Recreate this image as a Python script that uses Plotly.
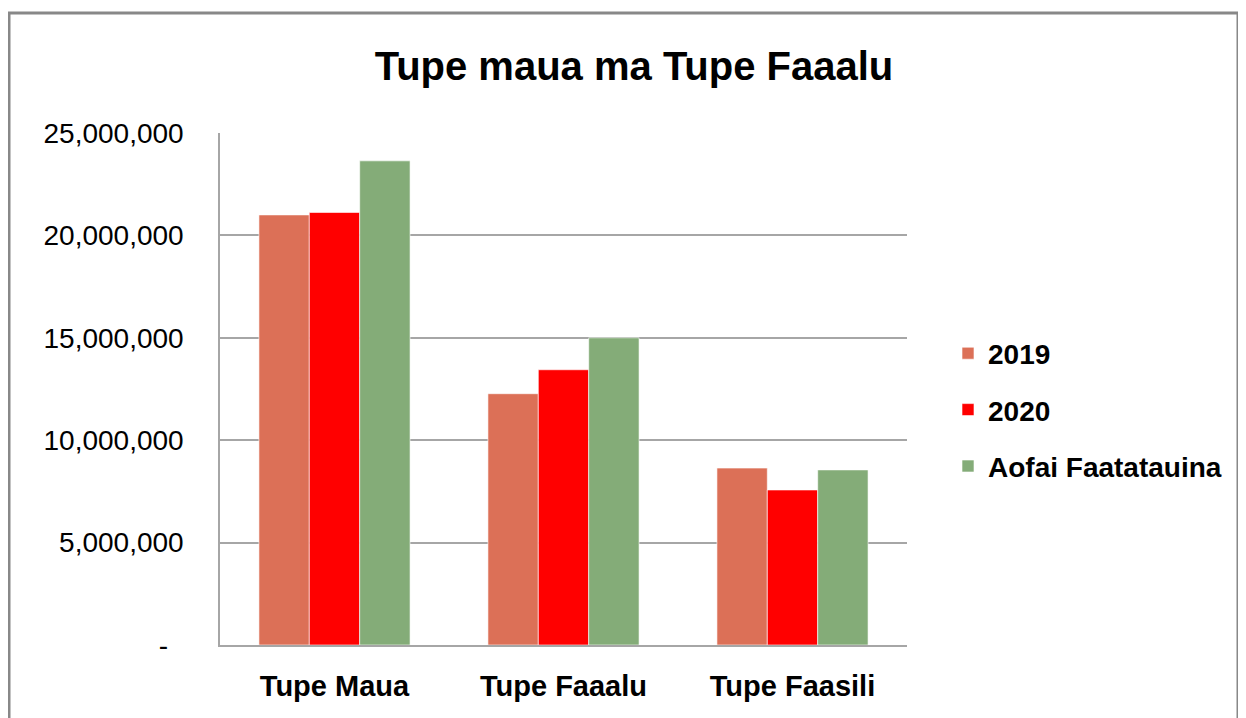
import plotly.graph_objects as go

categories = ["Tupe Maua", "Tupe Faaalu", "Tupe Faasili"]
series_names = ["2019", "2020", "Aofai Faatatauina"]
v2019 = [21000000, 12270000, 8640000]
v2020 = [21120000, 13440000, 7570000]
vaofai = [23640000, 15000000, 8550000]
colors = ["#DC7057", "#FF0000", "#84AC78"]

ytickvals = [0, 5000000, 10000000, 15000000, 20000000, 25000000]
yticktext = ["-\u00a0\u00a0", "5,000,000", "10,000,000", "15,000,000", "20,000,000", "25,000,000"]

fig = go.Figure()
for i, (name, vals) in enumerate(zip(series_names, [v2019, v2020, vaofai])):
    fig.add_trace(go.Bar(
        x=categories, y=vals, name="<b>" + name + "</b>",
        marker=dict(color=colors[i], line=dict(color="rgba(255,255,255,0.6)", width=1)),
        legendgroup=name,
    ))

OFF = 8  # page body margin
W, H = 1246 - OFF, 718 - OFF
L, R, T, B = 220 - OFF, 907 - OFF, 133 - OFF, 645 - OFF
pw, ph = R - L, B - T

def px(x):
    return (x - OFF - L) / pw

def py(y):
    return (B - (y - OFF)) / ph

fig.update_layout(
    width=W, height=H,
    margin=dict(l=L, r=W - R, t=T, b=H - B, autoexpand=False),
    paper_bgcolor="white", plot_bgcolor="white",
    barmode="group", bargap=0.34, bargroupgap=0,
    font=dict(family="Liberation Sans, Arial, sans-serif", color="black"),
    title=dict(text="<b>Tupe maua ma Tupe Faaalu</b>", x=(634 - OFF) / W, xanchor="center",
               y=(H - (66 - OFF)) / H, yanchor="middle", font=dict(size=40, color="black")),
    legend=dict(x=px(948), xanchor="left", y=py(410), yanchor="middle",
                font=dict(size=28, color="black"), traceorder="grouped",
                tracegroupgap=17, itemwidth=30, bgcolor="rgba(0,0,0,0)"),
    showlegend=True,
    xaxis=dict(showgrid=False, showline=True, linecolor="#a6a6a6", linewidth=1.5,
               tickfont=dict(size=29, color="black"), tickprefix="<b>", ticksuffix="</b>",
               ticks="", ticklabelstandoff=14, fixedrange=True),
    yaxis=dict(range=[0, 25000000], tickvals=ytickvals, ticktext=yticktext,
               showgrid=True, gridcolor="#a6a6a6", gridwidth=1.5,
               showline=True, linecolor="#a6a6a6", linewidth=1.5,
               tickfont=dict(size=28, color="black"), ticks="",
               ticklabelstandoff=29, zeroline=False, fixedrange=True),
    shapes=[dict(type="rect", xref="paper", yref="paper",
                 x0=px(9), x1=px(1238), y0=py(13), y1=py(730),
                 line=dict(color="#888888", width=3), fillcolor="rgba(0,0,0,0)", layer="below")],
)

fig.write_html("out.html")
